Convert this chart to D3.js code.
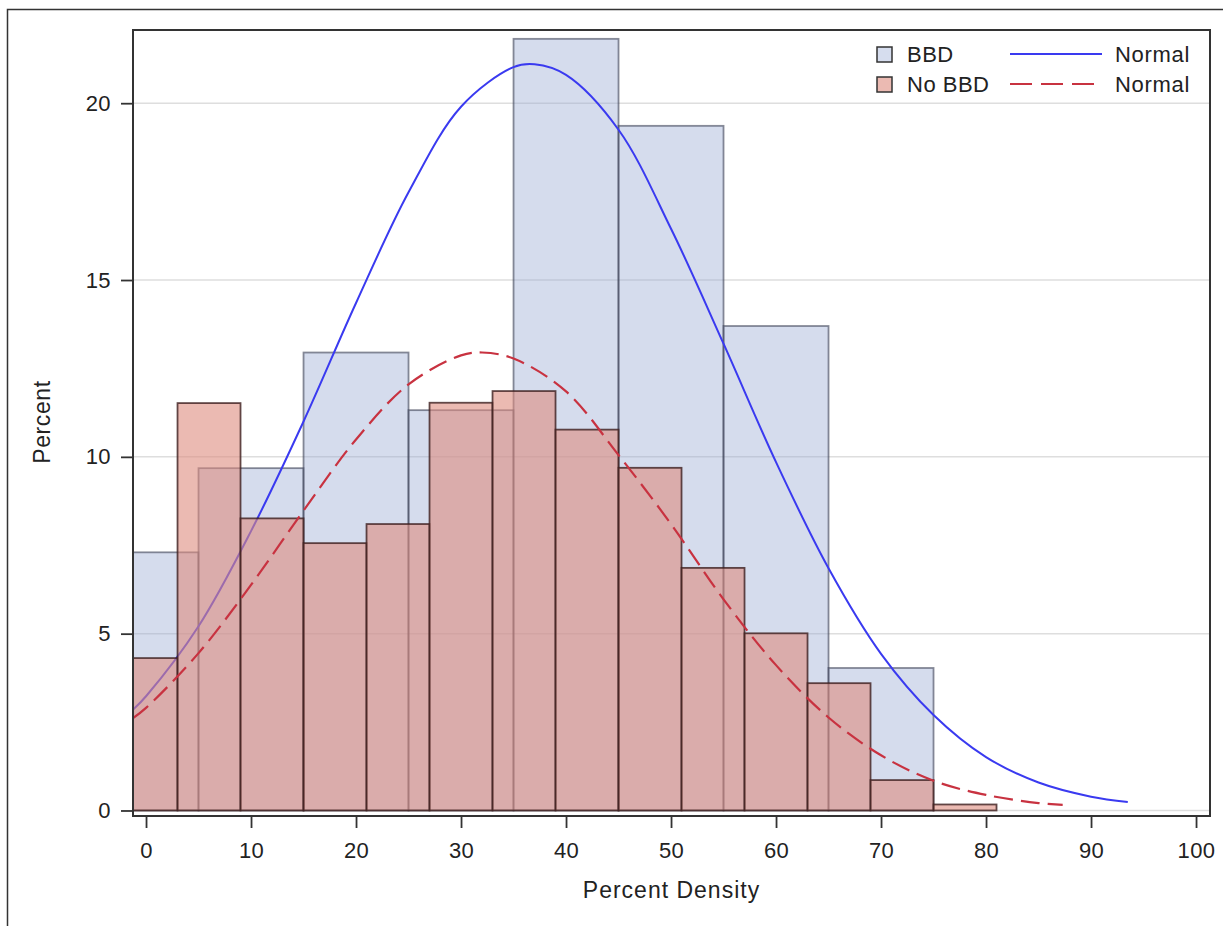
<!DOCTYPE html>
<html>
<head>
<meta charset="utf-8">
<script src="https://cdn.jsdelivr.net/npm/d3@7"></script>
<style>
    body { margin: 0; background: #fff; }
    svg text { font-family: "Liberation Sans", Arial, sans-serif; fill: #222; }
</style>
</head>
<body>
<svg id="chart" width="1223" height="926"></svg>
<script>
// Histogram bins (centers) and percents
const bbdCenters = [0, 10, 20, 30, 40, 50, 60, 70];
const bbdPercent = [7.3, 9.68, 12.95, 11.32, 21.82, 19.36, 13.7, 4.03];
const bbdWidth = 10;

const noBbdCenters = [0, 6, 12, 18, 24, 30, 36, 42, 48, 54, 60, 66, 72, 78];
const noBbdPercent = [4.31, 11.52, 8.26, 7.56, 8.1, 11.53, 11.86, 10.77, 9.69, 6.86, 5.01, 3.6, 0.86, 0.17];
const noBbdWidth = 6;

// Normal curves
const bbdNormalX = [-1.2, 0, 5, 10, 15, 20, 25, 30, 35, 37, 40, 45, 50, 55, 60, 65, 70, 75, 80, 85, 90, 93.5];
const bbdNormalY = [2.86, 3.23, 5.21, 7.9, 11.0, 14.35, 17.48, 19.9, 21.02, 21.1, 20.8, 19.25, 16.45, 13.2, 9.85, 6.85, 4.43, 2.7, 1.51, 0.79, 0.39, 0.24];

const noBbdNormalX = [-1.2, 0, 5, 10, 15, 20, 25, 30, 32, 35, 40, 45, 50, 55, 60, 65, 70, 75, 80, 85, 87.3];
const noBbdNormalY = [2.62, 2.9, 4.45, 6.38, 8.48, 10.49, 12.05, 12.87, 12.95, 12.78, 11.85, 10.05, 8.1, 5.97, 4.11, 2.63, 1.56, 0.84, 0.44, 0.21, 0.16];

// Axis ticks and labels
const xTicks = [0, 10, 20, 30, 40, 50, 60, 70, 80, 90, 100];
const yTicks = [0, 5, 10, 15, 20];
const legendLabels = ["BBD", "No BBD"];
const curveLabel = "Normal";

const svg = d3.select("#chart");

// Plot area
const plotLeft = 133, plotRight = 1210, plotTop = 30, plotBottom = 816;

const x = d3.scaleLinear().domain([-1.24, 101.33]).range([plotLeft, plotRight]);
const y = d3.scaleLinear().domain([-0.156, 22.07]).range([plotBottom, plotTop]);

// Outer graph border (only top and left edges are visible)
svg.append("path")
    .attr("d", "M7.5,926V9.5H1223")
    .attr("fill", "none")
    .attr("stroke", "#333")
    .attr("stroke-width", 1.5);

svg.append("defs").append("clipPath")
    .attr("id", "plotClip")
    .append("rect")
    .attr("x", plotLeft).attr("y", plotTop)
    .attr("width", plotRight - plotLeft).attr("height", plotBottom - plotTop);

// Horizontal grid lines
svg.append("g")
    .selectAll("line")
    .data(yTicks)
    .join("line")
    .attr("x1", plotLeft).attr("x2", plotRight)
    .attr("y1", (d) => y(d)).attr("y2", (d) => y(d))
    .attr("stroke", "#dedede")
    .attr("stroke-width", 1.5);

const plot = svg.append("g").attr("clip-path", "url(#plotClip)");

// BBD histogram
plot.append("g")
    .selectAll("rect")
    .data(bbdCenters)
    .join("rect")
    .attr("x", (d) => x(d - bbdWidth / 2))
    .attr("width", (d) => x(d + bbdWidth / 2) - x(d - bbdWidth / 2))
    .attr("y", (d, i) => y(bbdPercent[i]))
    .attr("height", (d, i) => y(0) - y(bbdPercent[i]))
    .attr("fill", "rgb(150,168,210)")
    .attr("fill-opacity", 0.4)
    .attr("stroke", "rgba(60,65,85,0.6)")
    .attr("stroke-width", 1.8);

const line = d3.line()
    .x((d) => x(d[0]))
    .y((d) => y(d[1]))
    .curve(d3.curveCatmullRom);

// BBD normal curve
plot.append("path")
    .datum(bbdNormalX.map((v, i) => [v, bbdNormalY[i]]))
    .attr("d", line)
    .attr("fill", "none")
    .attr("stroke", "#3a3af0")
    .attr("stroke-width", 2);

// No BBD histogram
plot.append("g")
    .selectAll("rect")
    .data(noBbdCenters)
    .join("rect")
    .attr("x", (d) => x(d - noBbdWidth / 2))
    .attr("width", (d) => x(d + noBbdWidth / 2) - x(d - noBbdWidth / 2))
    .attr("y", (d, i) => y(noBbdPercent[i]))
    .attr("height", (d, i) => y(0) - y(noBbdPercent[i]))
    .attr("fill", "rgb(222,140,127)")
    .attr("fill-opacity", 0.6)
    .attr("stroke", "rgba(60,30,30,0.8)")
    .attr("stroke-width", 1.8);

// No BBD normal curve
plot.append("path")
    .datum(noBbdNormalX.map((v, i) => [v, noBbdNormalY[i]]))
    .attr("d", line)
    .attr("fill", "none")
    .attr("stroke", "#c83240")
    .attr("stroke-width", 2.2)
    .attr("stroke-dasharray", "19,8");

// Axes
const xAxis = svg.append("g")
    .attr("transform", `translate(0,${plotBottom})`)
    .call(d3.axisBottom(x).tickValues(xTicks).tickSize(12).tickPadding(14));
const yAxis = svg.append("g")
    .attr("transform", `translate(${plotLeft},0)`)
    .call(d3.axisLeft(y).tickValues(yTicks).tickSize(12).tickPadding(10));

[xAxis, yAxis].forEach((ax) => {
    ax.select(".domain").remove();
    ax.selectAll(".tick line").attr("stroke", "#333").attr("stroke-width", 1.8);
    ax.selectAll(".tick text").attr("font-size", 22).attr("fill", "#222")
        .attr("letter-spacing", 0.4)
        .style("font-family", "'Liberation Sans', Arial, sans-serif");
});

// Plot frame
svg.append("rect")
    .attr("x", plotLeft).attr("y", plotTop)
    .attr("width", plotRight - plotLeft).attr("height", plotBottom - plotTop)
    .attr("fill", "none")
    .attr("stroke", "#333")
    .attr("stroke-width", 2);

// Axis labels
svg.append("text")
    .attr("x", (plotLeft + plotRight) / 2)
    .attr("y", 898)
    .attr("text-anchor", "middle")
    .attr("font-size", 23)
    .attr("letter-spacing", 1)
    .text("Percent Density");

svg.append("text")
    .attr("transform", "translate(50,422) rotate(-90)")
    .attr("text-anchor", "middle")
    .attr("font-size", 23)
    .attr("letter-spacing", 0.6)
    .text("Percent");

// Legend
const legend = svg.append("g");
const legendRows = [
    { fill: "rgb(214,221,238)", stroke: "#333", dash: null, color: "#3a3af0" },
    { fill: "rgb(235,186,178)", stroke: "#333", dash: "22,9", color: "#c83240" }
];
legendRows.forEach((row, i) => {
    const cy = 54 + i * 30;
    legend.append("rect")
        .attr("x", 877).attr("y", cy - 7)
        .attr("width", 15).attr("height", 15)
        .attr("fill", row.fill)
        .attr("stroke", row.stroke)
        .attr("stroke-width", 1.5);
    legend.append("text")
        .attr("x", 907).attr("y", cy + 8)
        .attr("font-size", 22)
        .attr("letter-spacing", 0.5)
        .text(legendLabels[i]);
    legend.append("line")
        .attr("x1", 1010).attr("x2", 1102)
        .attr("y1", cy).attr("y2", cy)
        .attr("stroke", row.color)
        .attr("stroke-width", 2)
        .attr("stroke-dasharray", row.dash);
    legend.append("text")
        .attr("x", 1115).attr("y", cy + 8)
        .attr("font-size", 22)
        .attr("letter-spacing", 0.7)
        .text(curveLabel);
});
</script>
</body>
</html>
